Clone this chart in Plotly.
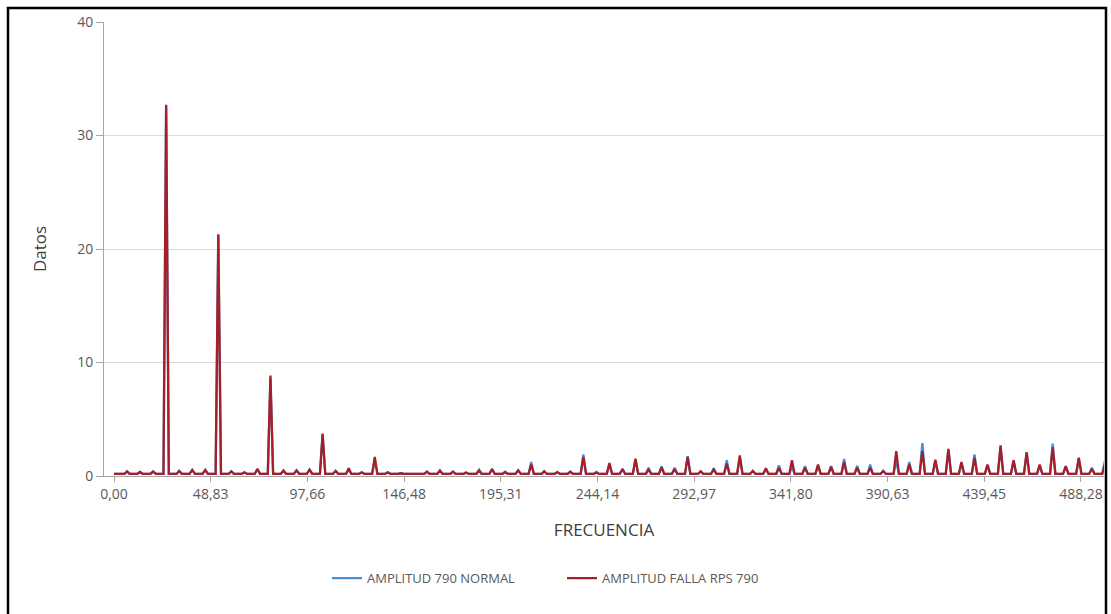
import plotly.graph_objects as go

# Spectrum peaks (Hz) and amplitudes for each measurement
frecuencia_pico = [
    6.58, 13.17, 19.75, 26.33, 32.92, 39.50, 46.08, 52.67, 59.25, 65.83,
    72.42, 79.00, 85.58, 92.17, 98.75, 105.33, 111.92, 118.50, 125.08, 131.67,
    138.25, 144.83, 151.42, 158.00, 164.58, 171.17, 177.75, 184.33, 190.92, 197.50,
    204.08, 210.67, 217.25, 223.83, 230.42, 237.00, 243.58, 250.17, 256.75, 263.33,
    269.92, 276.50, 283.08, 289.67, 296.25, 302.83, 309.42, 316.00, 322.58, 329.17,
    335.75, 342.33, 348.92, 355.50, 362.08, 368.67, 375.25, 381.83, 388.42, 395.00,
    401.58, 408.17, 414.75, 421.33, 427.92, 434.50, 441.08, 447.67, 454.25, 460.83,
    467.42, 474.00, 480.58, 487.17, 493.75, 500.33,
]
amplitud_normal = [
    0.40, 0.35, 0.40, 32.5, 0.44, 0.53, 0.53, 21.2, 0.41, 0.33,
    0.62, 8.60, 0.47, 0.50, 0.56, 3.60, 0.44, 0.55, 0.33, 1.35,
    0.33, 0.24, 0.24, 0.38, 0.47, 0.38, 0.30, 0.56, 0.62, 0.35,
    0.50, 1.24, 0.41, 0.35, 0.38, 1.90, 0.35, 1.00, 0.62, 1.40,
    0.74, 0.88, 0.74, 1.74, 0.41, 0.68, 1.38, 1.60, 0.44, 0.60,
    0.94, 0.80, 0.88, 0.90, 0.88, 1.50, 0.90, 1.00, 0.44, 1.32,
    1.24, 2.90, 1.30, 2.30, 1.10, 1.90, 0.95, 2.50, 1.30, 2.00,
    0.90, 2.85, 0.85, 1.50, 0.74, 1.30,
]
amplitud_falla = [
    0.41, 0.35, 0.40, 32.7, 0.44, 0.53, 0.53, 21.3, 0.41, 0.33,
    0.62, 8.85, 0.47, 0.50, 0.56, 3.73, 0.44, 0.68, 0.33, 1.67,
    0.33, 0.24, 0.24, 0.38, 0.47, 0.38, 0.30, 0.47, 0.62, 0.35,
    0.50, 1.00, 0.41, 0.32, 0.38, 1.68, 0.30, 1.15, 0.62, 1.53,
    0.56, 0.74, 0.62, 1.68, 0.41, 0.56, 1.09, 1.82, 0.44, 0.68,
    0.73, 1.38, 0.74, 1.00, 0.80, 1.24, 0.74, 0.74, 0.44, 2.20,
    1.00, 2.20, 1.44, 2.38, 1.24, 1.62, 1.00, 2.70, 1.38, 2.10,
    1.00, 2.55, 0.88, 1.62, 0.62, 1.00,
]
nivel_base = 0.18          # noise floor between peaks
semiancho_pico = 1.35      # half width of each peak at its base (Hz)

tick_vals = [0.0, 48.828125, 97.65625, 146.484375, 195.3125, 244.140625,
             292.96875, 341.796875, 390.625, 439.453125, 488.28125]
tick_text = ["0,00", "48,83", "97,66", "146,48", "195,31", "244,14",
             "292,97", "341,80", "390,63", "439,45", "488,28"]


def espectro(frecs, amps):
    xs, ys = [0.0], [nivel_base]
    for f, a in zip(frecs, amps):
        xs += [f - semiancho_pico, f, f + semiancho_pico]
        ys += [nivel_base, a, nivel_base]
    xs.append(503.0)
    ys.append(nivel_base)
    return xs, ys


xn, yn = espectro(frecuencia_pico, amplitud_normal)
xf, yf = espectro(frecuencia_pico, amplitud_falla)

fig = go.Figure()
fig.add_trace(go.Scatter(x=xn, y=yn, mode="lines", name="AMPLITUD 790 NORMAL",
                         line=dict(color="#4a8fd6", width=2.3)))
fig.add_trace(go.Scatter(x=xf, y=yf, mode="lines", name="AMPLITUD FALLA RPS 790",
                         line=dict(color="#a51e28", width=2.3)))

font_family = "Open Sans, Noto Sans, sans-serif"
fig.update_layout(
    width=1111, height=614,
    margin=dict(l=104, r=7, t=22, b=138),
    paper_bgcolor="white", plot_bgcolor="white",
    font=dict(family=font_family, color="#595959"),
    showlegend=True,
    legend=dict(orientation="h", x=0.223, xanchor="left", y=-0.225, yanchor="middle",
                font=dict(size=13, color="#595959"),
                entrywidth=190, entrywidthmode="pixels"),
    xaxis=dict(
        range=[-5.05, 499.9], tickmode="array", tickvals=tick_vals, ticktext=tick_text,
        showgrid=False, zeroline=False, showline=True, linecolor="#a6a6a6", linewidth=1,
        ticks="outside", ticklen=5, tickcolor="#a6a6a6",
        tickfont=dict(size=14, color="#595959"),
        title=dict(text="FRECUENCIA", font=dict(size=17, color="#404040"), standoff=22),
    ),
    yaxis=dict(
        range=[0, 40], tickvals=[0, 10, 20, 30, 40],
        showgrid=True, gridcolor="#d9d9d9", gridwidth=1, zeroline=False,
        showline=True, linecolor="#a6a6a6", linewidth=1,
        ticks="outside", ticklen=7, tickcolor="#a6a6a6",
        tickfont=dict(size=14, color="#595959"),
        title=dict(text="Datos", font=dict(size=17, color="#404040"), standoff=26),
    ),
    shapes=[dict(type="rect", xref="paper", yref="paper",
                 x0=-0.096, x1=1.002, y0=-0.4, y1=1.031,
                 line=dict(color="black", width=2.5), fillcolor="rgba(0,0,0,0)")],
)

fig.write_html("out.html")
